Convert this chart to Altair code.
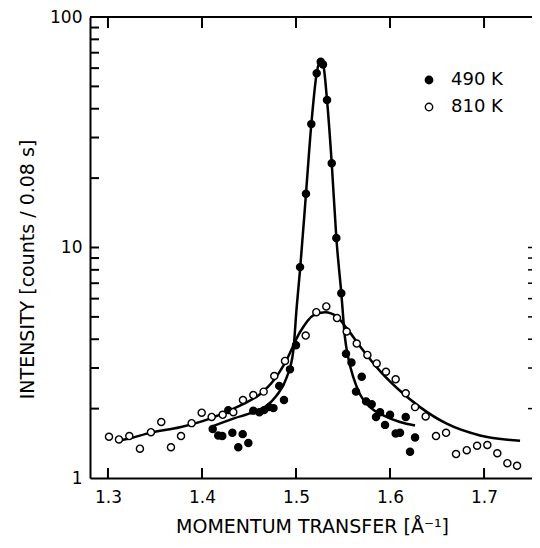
import altair as alt
import pandas as pd

# ---- data ----
series_names = ["490 K", "810 K"]

q_490 = [1.4114, 1.4173, 1.4216, 1.4280, 1.4323, 1.4386, 1.4433, 1.4493, 1.4546, 1.4610,
         1.4660, 1.4716, 1.4760, 1.4822, 1.4872, 1.4936, 1.5000, 1.5043, 1.5106, 1.5163,
         1.5220, 1.5263, 1.5287, 1.5330, 1.5380, 1.5429, 1.5482, 1.5532, 1.5590, 1.5638,
         1.5699, 1.5745, 1.5805, 1.5851, 1.5894, 1.5947, 1.6000, 1.6060, 1.6106, 1.6167,
         1.6213, 1.6266]
i_490 = [1.63, 1.53, 1.52, 1.97, 1.57, 1.36, 1.55, 1.42, 1.96, 1.93,
         1.97, 2.03, 2.01, 2.51, 2.18, 2.96, 3.77, 8.22, 17.1, 34.3,
         57.0, 63.9, 62.2, 43.6, 23.2, 11.0, 6.33, 3.46, 3.17, 2.37,
         2.75, 2.15, 2.09, 1.84, 1.93, 1.70, 1.88, 1.56, 1.57, 1.84,
         1.30, 1.50]

q_810 = [1.3011, 1.3117, 1.3227, 1.3340, 1.3457, 1.3567, 1.3670, 1.3777, 1.3890, 1.3997,
         1.4103, 1.4220, 1.4333, 1.4436, 1.4546, 1.4656, 1.4769, 1.4883, 1.5103, 1.5216,
         1.5322, 1.5436, 1.5539, 1.5646, 1.5759, 1.5858, 1.5957, 1.6060, 1.6167, 1.6266,
         1.6379, 1.6489, 1.6596, 1.6702, 1.6816, 1.6926, 1.7035, 1.7141, 1.7248, 1.7351]
i_810 = [1.51, 1.47, 1.52, 1.34, 1.58, 1.75, 1.36, 1.52, 1.73, 1.92,
         1.84, 1.88, 1.93, 2.18, 2.29, 2.37, 2.77, 3.22, 4.15, 5.24,
         5.55, 4.94, 4.32, 3.83, 3.42, 3.14, 2.89, 2.68, 2.33, 2.03,
         1.85, 1.52, 1.57, 1.27, 1.32, 1.38, 1.39, 1.28, 1.16, 1.13]

fit_q_490 = [1.4102, 1.4333, 1.4546, 1.4688, 1.4794, 1.4901, 1.4971, 1.5007, 1.5043, 1.5106,
             1.5163, 1.5220, 1.5260, 1.5290, 1.5330, 1.5380, 1.5429, 1.5482, 1.5521, 1.5556,
             1.5610, 1.5680, 1.5787, 1.5929, 1.6106, 1.6266]
fit_i_490 = [1.67, 1.81, 1.93, 2.06, 2.28, 2.73, 3.55, 5.5, 8.0, 17.1,
             34.3, 57.0, 65.0, 62.0, 43.6, 23.2, 11.0, 6.33, 4.05, 3.32,
             2.73, 2.31, 2.03, 1.87, 1.75, 1.69]

fit_q_810 = [1.3145, 1.3216, 1.3447, 1.3766, 1.4085, 1.4404, 1.4617, 1.4759, 1.4890, 1.5043,
             1.5184, 1.5309, 1.5433, 1.5539, 1.5680, 1.5894, 1.6106, 1.6319, 1.6603, 1.6957,
             1.7383]
fit_i_810 = [1.46, 1.48, 1.57, 1.66, 1.81, 2.06, 2.31, 2.64, 3.20, 4.30,
             5.08, 5.24, 5.02, 4.47, 3.73, 2.91, 2.39, 2.03, 1.72, 1.53,
             1.45]

x_ticks = [1.3, 1.4, 1.5, 1.6, 1.7]
y_labels = [1, 10, 100]
y_minor = [2, 3, 4, 5, 6, 7, 8, 9, 10, 20, 30, 40, 50, 60, 70, 80, 90]
y_right = [2, 3, 4, 5, 6, 7, 8, 9, 10]

# ---- tables ----
pts = pd.DataFrame({
    "q": q_490 + q_810,
    "v": i_490 + i_810,
    "series": [series_names[0]] * len(q_490) + [series_names[1]] * len(q_810),
})
fits = pd.DataFrame({
    "q": fit_q_490 + fit_q_810,
    "v": fit_i_490 + fit_i_810,
    "series": [series_names[0]] * len(fit_q_490) + [series_names[1]] * len(fit_q_810),
})
xt = pd.DataFrame({"q": x_ticks})
yt = pd.DataFrame({"v": y_minor})
yr = pd.DataFrame({"v": y_right})

W, H = 442, 461
FONT = "DejaVu Sans"

xs = alt.Scale(domain=[1.2809, 1.751], nice=False, zero=False)
ys = alt.Scale(type="log", domain=[1, 100], nice=False)

xaxis = alt.Axis(values=x_ticks, format=".1f", title="MOMENTUM TRANSFER [Å⁻¹]",
                 domainColor="black", domainWidth=2, ticks=False, tickSize=0, grid=False,
                 labelFont=FONT, labelFontSize=17, labelColor="black", labelPadding=11,
                 labelFlush=False, labelOverlap=False,
                 titleFont=FONT, titleFontSize=19, titleFontWeight="normal", titleColor="black",
                 titleX=222, titleY=54, titleBaseline="alphabetic", titleAlign="center")
yaxis = alt.Axis(values=y_labels, format="d", title="INTENSITY [counts / 0.08 s]",
                 domainColor="black", domainWidth=2, ticks=False, tickSize=0, grid=False,
                 labelFont=FONT, labelFontSize=17, labelColor="black", labelPadding=8,
                 labelFlush=False, labelOverlap=False,
                 titleFont=FONT, titleFontSize=19, titleFontWeight="normal", titleColor="black",
                 titleX=-57, titleY=252, titleAngle=270, titleBaseline="alphabetic",
                 titleAlign="center")

lines = alt.Chart(fits).mark_line(color="black", strokeWidth=2.5, interpolate="monotone").encode(
    x=alt.X("q:Q", scale=xs, axis=xaxis),
    y=alt.Y("v:Q", scale=ys, axis=yaxis),
    detail="series:N",
)

points = alt.Chart(pts).mark_point(shape="circle", filled=True, stroke="black",
                                   strokeWidth=1.4, size=50, opacity=1, fillOpacity=1).encode(
    x=alt.X("q:Q", scale=xs),
    y=alt.Y("v:Q", scale=ys),
    fill=alt.Fill("series:N",
                  scale=alt.Scale(domain=series_names, range=["black", "white"]),
                  legend=alt.Legend(title=None, orient="none", legendX=330, legendY=54,
                                    padding=0, symbolType="circle", symbolSize=55,
                                    symbolStrokeColor="black", symbolStrokeWidth=1.4,
                                    labelFont=FONT, labelFontSize=18, labelColor="black",
                                    labelOffset=13, rowPadding=9)),
)

bottom_ticks = alt.Chart(xt).mark_rule(color="black", strokeWidth=2).encode(
    x=alt.X("q:Q", scale=xs), y=alt.value(H), y2=alt.value(H - 10))
top_ticks = alt.Chart(xt).mark_rule(color="black", strokeWidth=2).encode(
    x=alt.X("q:Q", scale=xs), y=alt.value(0), y2=alt.value(11))
left_ticks = alt.Chart(yt).mark_rule(color="black", strokeWidth=2).encode(
    y=alt.Y("v:Q", scale=ys), x=alt.value(0), x2=alt.value(9))
right_ticks = alt.Chart(yr).mark_rule(color="black", strokeWidth=1.5).encode(
    y=alt.Y("v:Q", scale=ys), x=alt.value(W), x2=alt.value(W - 4))
top_border = alt.Chart(xt).mark_rule(color="black", strokeWidth=2).encode(
    x=alt.value(0), x2=alt.value(W), y=alt.value(0))

chart = alt.layer(lines, points, bottom_ticks, top_ticks, left_ticks, right_ticks, top_border).properties(
    width=W, height=H,
    autosize=alt.AutoSizeParams(type="none"),
    padding={"left": 82, "top": 9, "right": 0, "bottom": 62},
).configure_view(stroke=None)

chart.save("out.html", embed_options={"renderer": "svg", "actions": False})
